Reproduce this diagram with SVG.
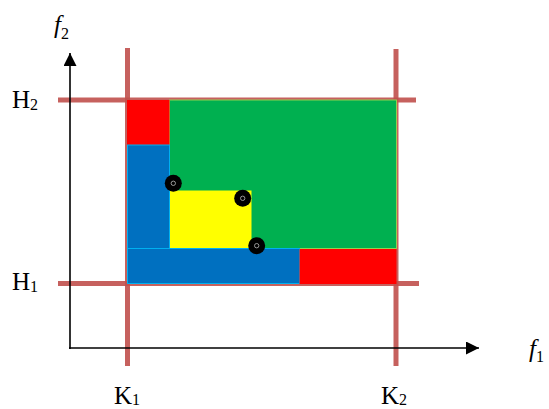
<svg xmlns="http://www.w3.org/2000/svg" width="549" height="409" viewBox="0 0 549 409">
<defs>
<marker id="arr" viewBox="0 0 10 10" refX="10" refY="5" markerWidth="13" markerHeight="13" markerUnits="userSpaceOnUse" orient="auto">
<path d="M0,0 L10,5 L0,10 z" fill="#000"/>
</marker>
<style>
.lim{stroke:#C0504D;stroke-width:5;stroke-opacity:0.9;fill:none}
.ax{stroke:#000;stroke-width:1.6;fill:none}
.lbl{font-family:"Liberation Serif","Times New Roman",serif;font-size:25px;fill:#000}
.sub{font-size:16px}
.it{font-style:italic}
.blue{fill:#0070C0;stroke:#00B0F0;stroke-width:1}
.red{fill:#FF0000}
.green{fill:#00B050;stroke:#92D050;stroke-width:1}
.yellow{fill:#FFFF00}
.dot{fill:#000}
.ring{fill:none;stroke:#999;stroke-width:1}
</style>
</defs>
<rect width="549" height="409" fill="#fff"/>
<g id="limits">
<line class="lim" x1="127.5" y1="48" x2="127.5" y2="366"/>
<line class="lim" x1="396" y1="49" x2="396" y2="366"/>
<line class="lim" x1="58" y1="100" x2="416" y2="100"/>
<line class="lim" x1="58" y1="283.5" x2="419" y2="283.5"/>
</g>
<g id="regions">
<rect id="green" class="green" x="169.5" y="100" width="227" height="148.5"/>
<rect id="red-top" class="red" x="127" y="100" width="42.5" height="45"/>
<rect id="blue-v" class="blue" x="127.5" y="145" width="42" height="103.5"/>
<rect id="blue-h" class="blue" x="127.5" y="248.5" width="172" height="35"/>
<rect id="red-bottom" class="red" x="299.5" y="249" width="97" height="35"/>
<rect id="yellow" class="yellow" x="170" y="190.5" width="81.5" height="57.5"/>
</g>
<g id="points">
<g id="p1"><circle class="dot" cx="173.3" cy="183.3" r="8.5"/><circle class="ring" cx="173.3" cy="183.3" r="2.2"/></g>
<g id="p2"><circle class="dot" cx="242.7" cy="198.3" r="8.5"/><circle class="ring" cx="242.7" cy="198.3" r="2.2"/></g>
<g id="p3"><circle class="dot" cx="256.7" cy="245.7" r="8.5"/><circle class="ring" cx="256.7" cy="245.7" r="2.2"/></g>
</g>
<g id="connectors">
<line class="ax" x1="70" y1="349" x2="70" y2="53" marker-end="url(#arr)"/>
<line class="ax" x1="69" y1="348" x2="479" y2="348" marker-end="url(#arr)"/>
</g>
<g id="labels">
<text class="lbl it" x="54" y="33" font-size="26">f<tspan class="sub" font-style="normal" dy="6">2</tspan></text>
<text class="lbl it" x="529" y="357" font-size="26">f<tspan class="sub" font-style="normal" dy="5">1</tspan></text>
<text class="lbl" x="12" y="108">H<tspan class="sub" dy="2">2</tspan></text>
<text class="lbl" x="12" y="290">H<tspan class="sub" dy="2">1</tspan></text>
<text class="lbl" x="114" y="404">K<tspan class="sub" dy="1">1</tspan></text>
<text class="lbl" x="381" y="404">K<tspan class="sub" dy="1">2</tspan></text>
</g>
</svg>
